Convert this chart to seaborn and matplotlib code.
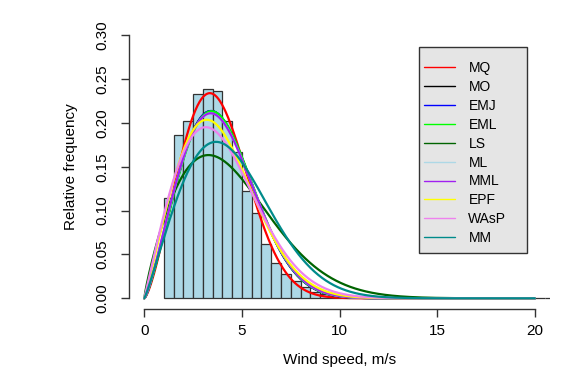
import numpy as np
import pandas as pd
import matplotlib
matplotlib.use("Agg")
import matplotlib.pyplot as plt
from matplotlib.lines import Line2D
from matplotlib.patches import Rectangle
import seaborn as sns

# ---------------- data ----------------
# histogram: relative frequency (density) of each 0.5 m/s bin, starting at 1.0 m/s
bin_start = 1.0
bin_width = 0.5
hist_heights = [0.114, 0.186, 0.202, 0.233, 0.239, 0.237, 0.202, 0.167, 0.123, 0.097,
                0.062, 0.040, 0.0275, 0.020, 0.013, 0.0075, 0.0045, 0.0028, 0.0018, 0.0012,
                0.0008, 0.0006, 0.0004, 0.0003, 0.0002, 0.0002, 0.0001, 0.0001, 0.0001, 0.0,
                0.0, 0.0, 0.0, 0.0, 0.0, 0.0, 0.0, 0.0, 0.0, 0.0]

# fitted Weibull distributions (shape k, scale c in m/s) per estimation method
methods = ["MQ", "MO", "EMJ", "EML", "LS", "ML", "MML", "EPF", "WAsP", "MM"]
shape_k = [2.41, 2.28, 2.28, 2.29, 1.85, 2.25, 2.25, 2.10, 2.02, 2.11]
scale_c = [4.19, 4.40, 4.40, 4.42, 5.00, 4.41, 4.41, 4.35, 4.42, 4.98]
colors = ["#FF0000", "#000000", "#0000FF", "#00FF00", "#006400",
          "#ADD8E6", "#A020F0", "#FFFF00", "#EE82EE", "#008B8B"]

x_ticks = [0, 5, 10, 15, 20]
y_ticks = [0.00, 0.05, 0.10, 0.15, 0.20, 0.25, 0.30]

# ---------------- style ----------------
sns.set_style("white")
plt.rcParams["font.family"] = ["Liberation Sans", "DejaVu Sans"]

fig = plt.figure(figsize=(5.85, 3.81), dpi=100)
ax = fig.add_axes([0.22, 0.1895, 0.721, 0.745])

# histogram
n_bins = len(hist_heights)
hist_df = pd.DataFrame({
    "speed": [bin_start + bin_width * (i + 0.5) for i in range(n_bins)],
    "freq": hist_heights,
})
sns.histplot(data=hist_df, x="speed", weights="freq", binwidth=bin_width,
             binrange=(bin_start, bin_start + bin_width * n_bins), stat="count",
             color="#ADD8E6", edgecolor="#333333", linewidth=0.9, alpha=1.0, ax=ax)

# Weibull density curves
xs = np.linspace(0, 20, 801)
rows = []
for m, k, c in zip(methods, shape_k, scale_c):
    pdf = (k / c) * (xs / c) ** (k - 1) * np.exp(-(xs / c) ** k)
    rows.append(pd.DataFrame({"x": xs, "density": pdf, "method": m}))
df = pd.concat(rows, ignore_index=True)
sns.lineplot(data=df, x="x", y="density", hue="method", hue_order=methods,
             palette=dict(zip(methods, colors)), linewidth=1.6, legend=False,
             estimator=None, sort=False, ax=ax)

# axes
ax.set_xlim(-0.8, 20.8)
ax.set_ylim(-0.012, 0.312)
ax.set_xticks(x_ticks)
ax.set_xticklabels([str(t) for t in x_ticks])
ax.set_yticks(y_ticks)
ax.set_yticklabels([f"{t:.2f}" for t in y_ticks])
for s in ["top", "right"]:
    ax.spines[s].set_visible(False)
for s in ["left", "bottom"]:
    ax.spines[s].set_visible(True)
    ax.spines[s].set_color("#333333")
    ax.spines[s].set_linewidth(1.0)
ax.spines["left"].set_bounds(0, 0.30)
ax.spines["bottom"].set_bounds(0, 20)
ax.tick_params(axis="both", which="major", bottom=True, left=True, top=False, right=False,
               direction="out", length=5.8, width=1.0, color="#333333",
               labelsize=11, labelcolor="black")
ax.tick_params(axis="x", pad=5)
ax.tick_params(axis="y", pad=8, labelrotation=90)
for lab in ax.get_yticklabels():
    lab.set_verticalalignment("center")

ax.set_xlabel("Wind speed, m/s", fontsize=11, color="black", va="center")
ax.xaxis.set_label_coords(0.5, -0.18)
ax.set_ylabel("Relative frequency", fontsize=11, color="black", va="center")
ax.yaxis.set_label_coords(-0.137, 0.5)

# legend box (R-style) and entries
ax.add_patch(Rectangle((0.688, 0.1966), 0.256, 0.727, transform=ax.transAxes,
                       facecolor="#E5E5E5", edgecolor="#333333", linewidth=1.0,
                       zorder=5, clip_on=False))
handles = [Line2D([0], [0], color=c, lw=1.0) for c in colors]
leg = ax.legend(handles, methods, loc="upper left", bbox_to_anchor=(0.700, 0.872),
                bbox_transform=ax.transAxes, frameon=False, fontsize=10,
                handlelength=2.2, handletextpad=1.0, labelspacing=0.35,
                borderpad=0, borderaxespad=0)
for t in leg.get_texts():
    t.set_color("black")
leg.set_zorder(6)

fig.savefig("out.png", dpi=100)
